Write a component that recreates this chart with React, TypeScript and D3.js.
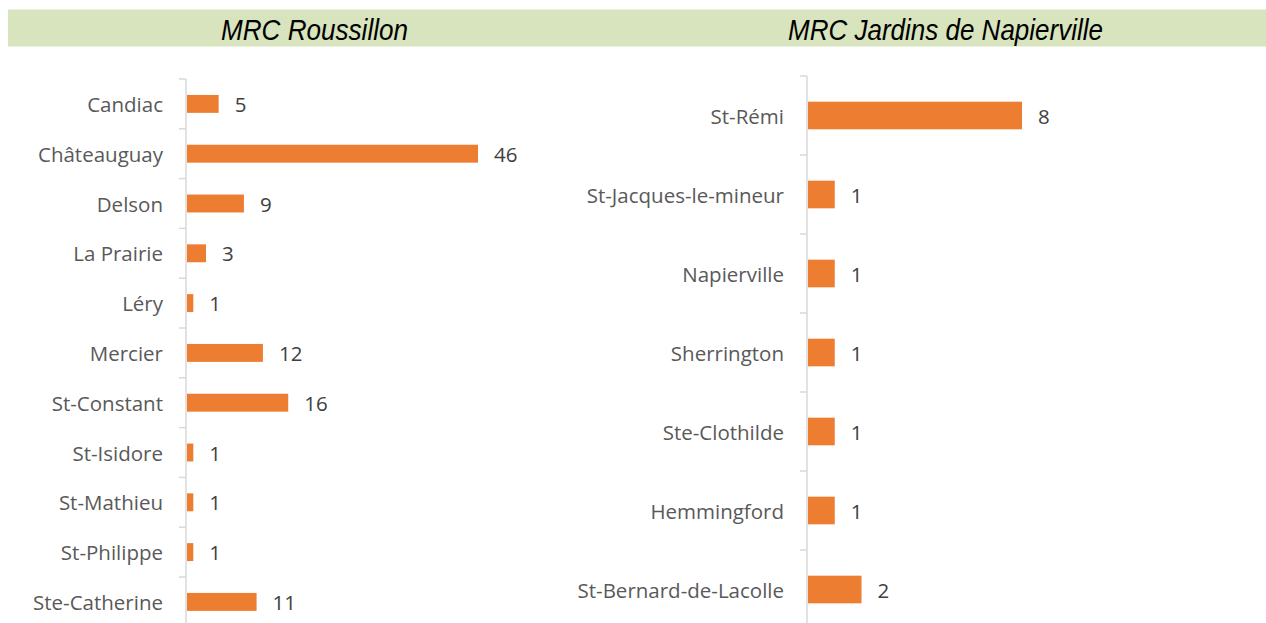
import * as d3 from "d3";

const leftTitle = "MRC Roussillon";
const leftCities = ["Candiac", "Châteauguay", "Delson", "La Prairie", "Léry", "Mercier", "St-Constant", "St-Isidore", "St-Mathieu", "St-Philippe", "Ste-Catherine"];
const leftValues = [5, 46, 9, 3, 1, 12, 16, 1, 1, 1, 11];

const rightTitle = "MRC Jardins de Napierville";
const rightCities = ["St-Rémi", "St-Jacques-le-mineur", "Napierville", "Sherrington", "Ste-Clothilde", "Hemmingford", "St-Bernard-de-Lacolle"];
const rightValues = [8, 1, 1, 1, 1, 1, 2];

const W = 1266;
const H = 623;
const BAR = "#ED7D31";
const AXIS = "#D9D9D9";
const LABEL_FONT = "'Open Sans', 'Noto Sans', sans-serif";
const TITLE_FONT = "'Liberation Sans', Arial, sans-serif";

type PanelProps = {
  cities: string[];
  values: number[];
  axisX: number;
  top: number;
  step: number;
  maxVal: number;
  maxPx: number;
  padding: number;
};

function Panel({ cities, values, axisX, top, step, maxVal, maxPx, padding }: PanelProps) {
  const y = d3.scaleBand<string>()
    .domain(cities)
    .range([top, top + step * cities.length])
    .paddingInner(padding)
    .paddingOuter(padding / 2);

  const x = d3.scaleLinear()
    .domain([0, maxVal])
    .range([axisX + 1, axisX + 1 + maxPx]);

  const ticks = d3.range(cities.length + 1).map(i => top + i * y.step());

  return (
    <g>
      {/* axis */}
      <line x1={axisX} x2={axisX} y1={top} y2={H} stroke={AXIS} strokeWidth={1.5} />
      {ticks.map(t => (
        <line key={t} x1={axisX - 7} x2={axisX} y1={t} y2={t} stroke={AXIS} strokeWidth={1.5} />
      ))}

      {cities.map((c, i) => {
        const yc = (y(c) ?? 0) + y.bandwidth() / 2;
        return (
          <g key={c}>
            <text
              x={axisX - 23}
              y={yc}
              textAnchor="end"
              dominantBaseline="central"
              fontFamily={LABEL_FONT}
              fontSize={20.5}
              fill="#595959"
            >
              {c}
            </text>
            <rect
              x={x(0)}
              y={y(c)}
              width={x(values[i]) - x(0)}
              height={y.bandwidth()}
              fill={BAR}
            />
            <text
              x={x(values[i]) + 16}
              y={yc}
              dominantBaseline="central"
              fontFamily={LABEL_FONT}
              fontSize={20.5}
              fill="#404040"
            >
              {values[i]}
            </text>
          </g>
        );
      })}
    </g>
  );
}

export default function App() {
  return (
    <svg width={W} height={H} style={{ position: "absolute", left: 0, top: 0, background: "#fff" }}>
      <rect x={8} y={9.5} width={W - 8} height={37} fill="#D7E4BD" />
      <text
        x={221}
        y={39.5}
        textLength={187}
        lengthAdjust="spacingAndGlyphs"
        fontFamily={TITLE_FONT}
        fontStyle="italic"
        fontSize={30}
        fill="#000"
      >
        {leftTitle}
      </text>
      <text
        x={788}
        y={39.5}
        textLength={315}
        lengthAdjust="spacingAndGlyphs"
        fontFamily={TITLE_FONT}
        fontStyle="italic"
        fontSize={30}
        fill="#000"
      >
        {rightTitle}
      </text>

      <Panel
        cities={leftCities}
        values={leftValues}
        axisX={186}
        top={79}
        step={49.8}
        maxVal={46}
        maxPx={291}
        padding={0.64}
      />
      <Panel
        cities={rightCities}
        values={rightValues}
        axisX={807}
        top={76}
        step={79}
        maxVal={8}
        maxPx={214}
        padding={0.65}
      />
    </svg>
  );
}
